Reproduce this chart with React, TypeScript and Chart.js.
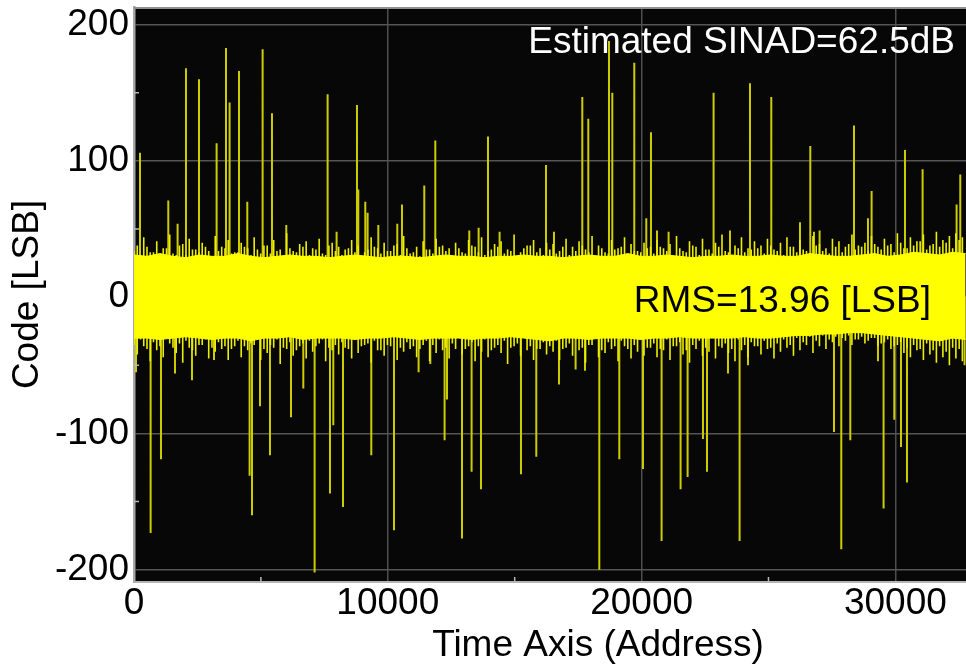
import React, { useEffect, useRef } from "react";
import { Chart, registerables } from "chart.js";

Chart.register(...registerables);

// ---- axis definitions ----
const X_TICKS = [0, 10000, 20000, 30000];
const X_MINOR = [5000, 15000, 25000, 35000];
const Y_TICKS = [-200, -100, 0, 100, 200];
const Y_MINOR = [-150, -50, 50, 150];
const X_MIN = 0;
const X_MAX = 36565;
const Y_MIN = -209;
const Y_MAX = 213;
const X_TITLE = "Time Axis (Address)";
const Y_TITLE = "Code [LSB]";
const SINAD_LABEL = "Estimated SINAD=62.5dB";
const RMS_LABEL = "RMS=13.96 [LSB]";

// ---- dense noise band: core envelope (every 512 addresses) ----
const CORE_STEP = 512;
const coreUpper = [
  31, 30, 32, 30, 29, 31, 30, 30, 32, 30, 29, 30, 31, 30, 30, 29,
  30, 31, 30, 29, 30, 30, 29, 30, 31, 30, 30, 29, 30, 30, 31, 30,
  30, 29, 30, 31, 30, 30, 32, 30, 30, 31, 30, 29, 30, 30, 31, 30,
  30, 31, 30, 30, 32, 31, 30, 30, 31, 32, 30, 31, 33, 32, 31, 33, 32,
];
const coreLower = [
  -30, -30, -31, -30, -29, -30, -31, -30, -30, -32, -30, -30, -29, -31, -30, -30,
  -30, -31, -30, -30, -29, -30, -31, -30, -30, -30, -31, -30, -30, -29, -30, -31,
  -32, -30, -30, -31, -30, -30, -30, -31, -30, -30, -29, -30, -30, -30, -30, -29,
  -30, -30, -29, -28, -28, -27, -27, -26, -26, -27, -28, -29, -30, -31, -32, -30, -31,
];

// ---- noise "grass" tips, tall set (every 256 addresses, offset 128) ----
const GRASS_STEP = 256;
const GRASS_A_START = 128;
const grassUpperA = [
  38, 44, 33, 41, 36, 46, 31, 39, 43, 35, 40, 34, 45, 37, 42, 33,
  40, 36, 44, 32, 38, 42, 35, 47, 34, 39, 41, 36, 43, 31, 40, 37,
  35, 42, 38, 33, 44, 36, 40, 34, 39, 45, 32, 37, 41, 35, 43, 38,
  36, 40, 33, 42, 37, 44, 34, 39, 41, 35, 46, 33, 38, 42, 36, 40,
  39, 34, 43, 37, 41, 35, 45, 38, 33, 42, 36, 44, 39, 34, 40, 37,
  42, 36, 39, 45, 34, 41, 37, 43, 35, 40, 46, 33, 38, 44, 36, 41,
  38, 43, 35, 40, 44, 37, 42, 34, 45, 39, 36, 43, 41, 37, 46, 38,
  40, 45, 37, 43, 39, 47, 36, 44, 41, 46, 38, 48, 42, 45, 47, 44,
];
const grassLowerA = [
  -42, -36, -47, -39, -44, -34, -41, -48, -37, -43, -35, -45, -40, -38, -46, -36,
  -44, -39, -35, -46, -41, -37, -49, -38, -43, -36, -45, -40, -34, -47, -39, -42,
  -37, -45, -41, -35, -48, -39, -43, -36, -46, -40, -38, -44, -35, -47, -41, -39,
  -45, -38, -42, -36, -47, -40, -44, -37, -41, -49, -36, -43, -39, -46, -38, -42,
  -40, -46, -37, -43, -39, -48, -35, -44, -41, -38, -47, -36, -45, -40, -43, -37,
  -44, -39, -46, -36, -42, -48, -38, -43, -40, -45, -37, -41, -47, -39, -44, -36,
  -42, -38, -45, -40, -37, -43, -39, -35, -41, -36, -38, -33, -36, -32, -35, -31,
  -34, -30, -36, -33, -38, -35, -41, -44, -39, -46, -42, -48, -44, -50, -45, -47,
];

// ---- noise "grass" tips, short set (every 256 addresses, offset 0) ----
const GRASS_B_START = 0;
const grassUpperB = [
  34, 31, 37, 33, 30, 36, 32, 38, 31, 35, 33, 37, 30, 34, 36, 32,
  33, 37, 31, 35, 38, 32, 34, 30, 36, 33, 37, 31, 35, 32, 38, 34,
  31, 36, 33, 30, 35, 37, 32, 34, 38, 31, 36, 33, 30, 35, 32, 37,
  34, 30, 36, 32, 38, 33, 31, 35, 37, 32, 34, 30, 36, 38, 33, 31,
  35, 32, 37, 31, 34, 38, 33, 30, 36, 32, 35, 37, 31, 34, 33, 36,
  32, 37, 34, 30, 36, 33, 38, 31, 35, 32, 37, 34, 30, 36, 33, 35,
  36, 32, 38, 34, 31, 37, 33, 35, 30, 38, 34, 32, 37, 33, 39, 35,
  37, 34, 39, 35, 38, 33, 40, 36, 38, 41, 35, 39, 37, 40, 36, 42,
];
const grassLowerB = [
  -35, -31, -38, -33, -36, -30, -37, -34, -32, -39, -35, -31, -37, -33, -36, -38,
  -32, -36, -34, -30, -38, -35, -31, -37, -33, -39, -34, -32, -36, -31, -37, -35,
  -33, -38, -31, -36, -34, -32, -39, -35, -30, -37, -33, -36, -38, -32, -35, -31,
  -37, -34, -30, -38, -33, -36, -31, -39, -35, -32, -37, -34, -30, -36, -38, -33,
  -36, -32, -38, -34, -31, -37, -35, -30, -39, -33, -36, -32, -38, -35, -31, -37,
  -34, -38, -31, -36, -33, -39, -35, -32, -37, -30, -36, -34, -38, -31, -35, -33,
  -36, -32, -37, -34, -31, -35, -30, -33, -29, -32, -28, -31, -29, -30, -28, -31,
  -29, -32, -30, -34, -31, -36, -33, -37, -35, -38, -34, -39, -36, -40, -37, -38,
];

// ---- isolated spikes (address, code) ----
const spikeAddr = [
  236, 1351, 1718, 2048, 2561, 3255, 3625, 3767, 4137, 4464, 5068, 5437, 6000,
  7629, 7983, 8786, 8838, 9113, 9205, 9626, 10374, 10559, 11438, 11872, 13211,
  13579, 13948, 14405, 16233, 16548, 17664, 17900, 18715, 18846, 19712, 20185,
  20370, 20607, 21064, 22837, 23483, 24271, 25110, 26241, 26647, 26793, 27014,
  28369, 28920, 29063, 30378, 31072, 32412, 32557,
  79, 655, 1063, 1615, 2285, 3152, 4555, 4650, 4965, 5358, 6186, 6671, 7117,
  7722, 7853, 8235, 9350, 10244, 11214, 11675, 12238, 12333, 12924, 13302,
  13672, 15248, 15851, 16745, 17400, 17770, 18334, 19122, 20055, 20788, 21537,
  21813, 22419, 22577, 23404, 23862, 24192, 27581, 27868, 28223, 29314, 29535,
  29957, 30221, 30457, 32726,
];
const spikeCode = [
  106, 71, 54, 168, 160, 113, 183, 143, 166, 70, 182, 135, 53,
  149, 48, 141, 79, 70, 62, 53, 54, 68, 82, 115, 49,
  51, 118, 48, 97, 48, 147, 131, 188, 150, 172, 58,
  121, 49, 48, 150, 49, 157, 147, 55, 111, 48, 49,
  126, 58, 78, 108, 94, 68, 90,
  -55, -173, -119, -56, -61, -46, -131, -160, -80, -116, -88, -67, -202,
  -144, -94, -154, -116, -171, -55, -49, -105, -75, -177, -128,
  -141, -130, -117, -64, -53, -54, -200, -119, -126, -179, -141,
  -132, -104, -128, -56, -179, -50, -99, -185, -105, -47, -155,
  -90, -110, -136, -50,
];

const FONT = '"Liberation Sans", Arial, Helvetica, sans-serif';
const BAND = "#ffff00";
const GRASS = "#eeee00";
const SPIKE = "#cccc00";

const overlayPlugin = {
  id: "overlay",
  beforeDraw(chart: any) {
    const { ctx, chartArea } = chart;
    const { left, top, right, bottom } = chartArea;
    ctx.save();
    ctx.fillStyle = "#070707";
    ctx.fillRect(left, top, right - left, bottom - top);
    ctx.restore();
  },
  afterDatasetsDraw(chart: any) {
    const { ctx, chartArea, scales } = chart;
    const { left, top, right, bottom } = chartArea;
    ctx.save();
    ctx.strokeStyle = "#909090";
    ctx.lineWidth = 2;
    ctx.beginPath();
    ctx.moveTo(left, top + 1);
    ctx.lineTo(right, top + 1);
    ctx.stroke();
    ctx.strokeStyle = "#b8b8b8";
    ctx.lineWidth = 1.5;
    ctx.beginPath();
    Y_MINOR.forEach((v) => {
      const py = scales.y.getPixelForValue(v);
      ctx.moveTo(left, py);
      ctx.lineTo(left + 5, py);
    });
    X_MINOR.forEach((v) => {
      const px = scales.x.getPixelForValue(v);
      ctx.moveTo(px, bottom);
      ctx.lineTo(px, bottom - 5);
    });
    ctx.stroke();
    ctx.font = `37px ${FONT}`;
    ctx.textAlign = "right";
    ctx.textBaseline = "alphabetic";
    ctx.fillStyle = "#ffffff";
    ctx.fillText(SINAD_LABEL, 955, 53);
    ctx.fillStyle = "#000000";
    ctx.fillText(RMS_LABEL, 931, 312);
    ctx.restore();
  },
};

function grassSegments(start: number, upper: number[], lower: number[]) {
  const out: any[] = [];
  upper.forEach((v, i) => {
    const x = start + i * GRASS_STEP;
    out.push({ x, y: lower[i] }, { x, y: v }, { x, y: null });
  });
  return out;
}

export default function App() {
  const ref = useRef<HTMLCanvasElement | null>(null);

  useEffect(() => {
    if (!ref.current) return;
    const core1 = coreUpper.map((v, i) => ({ x: i * CORE_STEP, y: v }));
    const core2 = coreLower.map((v, i) => ({ x: i * CORE_STEP, y: v }));
    const grassA = grassSegments(GRASS_A_START, grassUpperA, grassLowerA);
    const grassB = grassSegments(GRASS_B_START, grassUpperB, grassLowerB);
    const spikes: any[] = [];
    spikeAddr.forEach((a, i) => {
      spikes.push({ x: a, y: 0 }, { x: a, y: spikeCode[i] }, { x: a, y: null });
    });

    const chart = new Chart(ref.current, {
      type: "line",
      data: {
        datasets: [
          {
            data: core1,
            borderColor: BAND,
            backgroundColor: BAND,
            borderWidth: 1,
            pointRadius: 0,
            fill: "+1",
            order: 0,
          },
          {
            data: core2,
            borderColor: BAND,
            borderWidth: 1,
            pointRadius: 0,
            fill: false,
            order: 0,
          },
          {
            data: grassA,
            borderColor: GRASS,
            borderWidth: 1.6,
            pointRadius: 0,
            fill: false,
            spanGaps: false,
            order: 1,
          },
          {
            data: grassB,
            borderColor: GRASS,
            borderWidth: 1.6,
            pointRadius: 0,
            fill: false,
            spanGaps: false,
            order: 1,
          },
          {
            data: spikes,
            borderColor: SPIKE,
            borderWidth: 2,
            pointRadius: 0,
            fill: false,
            spanGaps: false,
            order: 2,
          },
        ],
      },
      options: {
        animation: false,
        responsive: false,
        devicePixelRatio: 1,
        layout: { padding: { top: 7, left: 0, right: 0, bottom: 0 } },
        plugins: {
          legend: { display: false },
          tooltip: { enabled: false },
        },
        scales: {
          x: {
            type: "linear",
            min: X_MIN,
            max: X_MAX,
            afterBuildTicks: (s: any) => {
              s.ticks = X_TICKS.map((v) => ({ value: v }));
            },
            afterFit: (s: any) => {
              s.height = 89;
              s.paddingLeft = 0;
              s.paddingRight = 0;
              s.paddingTop = 0;
              s.paddingBottom = 0;
            },
            ticks: {
              color: "#000",
              font: { family: FONT, size: 37, lineHeight: 1.2 },
              padding: 0,
              maxRotation: 0,
              autoSkip: false,
              callback: (v: any) => String(v),
            },
            grid: { color: "#4e4e4e", lineWidth: 1.5, drawTicks: false },
            border: { display: true, color: "#b4b4b4", width: 2 },
            title: {
              display: true,
              text: X_TITLE,
              color: "#000",
              font: { family: FONT, size: 37, lineHeight: 1.2 },
              padding: { top: 0, bottom: 3 },
            },
          },
          y: {
            type: "linear",
            min: Y_MIN,
            max: Y_MAX,
            afterBuildTicks: (s: any) => {
              s.ticks = Y_TICKS.map((v) => ({ value: v }));
            },
            afterFit: (s: any) => {
              s.width = 134;
              s.paddingLeft = 0;
              s.paddingRight = 0;
              s.paddingTop = 0;
              s.paddingBottom = 0;
            },
            ticks: {
              color: "#000",
              font: { family: FONT, size: 37, lineHeight: 1.2 },
              padding: 5,
              autoSkip: false,
              callback: (v: any) => String(v),
            },
            grid: { color: "#555555", lineWidth: 1.5, drawTicks: false },
            border: { display: true, color: "#a8a8a8", width: 2.5 },
            title: {
              display: true,
              text: Y_TITLE,
              color: "#000",
              font: { family: FONT, size: 37, lineHeight: 1.2 },
              padding: { top: 6, bottom: 0 },
            },
          },
        },
      },
      plugins: [overlayPlugin],
    });
    return () => chart.destroy();
  }, []);

  return (
    <div
      style={{
        position: "fixed",
        left: 0,
        top: 0,
        width: 966,
        height: 671,
        overflow: "hidden",
        background: "#ffffff",
      }}
    >
      <canvas
        ref={ref}
        width={1062}
        height={671}
        style={{ display: "block", width: 1062, height: 671 }}
      />
    </div>
  );
}
